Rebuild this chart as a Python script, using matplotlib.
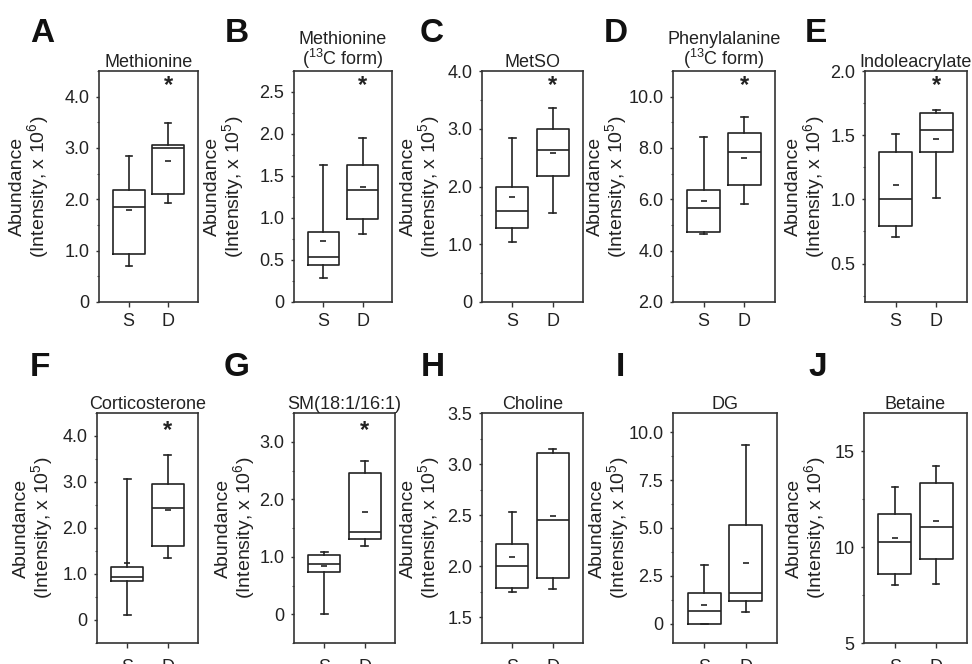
import matplotlib
matplotlib.use("Agg")
import matplotlib.pyplot as plt
from matplotlib.ticker import MultipleLocator, FixedLocator

plt.rcParams['font.family'] = ['Liberation Sans', 'DejaVu Sans']
plt.rcParams['mathtext.fontset'] = 'custom'
plt.rcParams['mathtext.rm'] = 'Liberation Sans'
plt.rcParams['mathtext.it'] = 'Liberation Sans:italic'
plt.rcParams['mathtext.bf'] = 'Liberation Sans:bold'

# ---------------- data ----------------
letters = ["A", "B", "C", "D", "E", "F", "G", "H", "I", "J"]
titles = ["Methionine",
          "Methionine\n($\\mathregular{^{13}}$C form)",
          "MetSO",
          "Phenylalanine\n($\\mathregular{^{13}}$C form)",
          "Indoleacrylate",
          "Corticosterone",
          "SM(18:1/16:1)",
          "Choline",
          "DG",
          "Betaine"]
exponents = [6, 5, 5, 5, 6, 5, 6, 5, 5, 6]
significant = [True, True, True, True, True, True, True, False, False, False]
groups = ["S", "D"]

s_lo   = [0.71, 0.28, 1.04, 4.66, 0.71, 0.10, 0.00, 1.75, 0.00, 8.03]
s_q1   = [0.94, 0.44, 1.28, 4.72, 0.79, 0.85, 0.74, 1.79, 0.00, 8.59]
s_med  = [1.86, 0.54, 1.58, 5.66, 1.00, 0.94, 0.88, 2.00, 0.69, 10.27]
s_q3   = [2.18, 0.83, 2.00, 6.35, 1.37, 1.16, 1.03, 2.22, 1.59, 11.71]
s_hi   = [2.85, 1.63, 2.84, 8.41, 1.51, 3.07, 1.09, 2.53, 3.06, 13.15]
s_mean = [1.80, 0.73, 1.81, 5.92, 1.11, 1.23, 0.84, 2.09, 1.00, 10.46]

d_lo   = [1.93, 0.81, 1.54, 5.81, 1.01, 1.34, 1.18, 1.78, 0.60, 8.08]
d_q1   = [2.11, 0.99, 2.19, 6.54, 1.37, 1.61, 1.31, 1.89, 1.21, 9.40]
d_med  = [3.00, 1.33, 2.63, 7.86, 1.54, 2.44, 1.43, 2.45, 1.59, 11.03]
d_q3   = [3.06, 1.63, 2.99, 8.60, 1.67, 2.95, 2.46, 3.11, 5.16, 13.35]
d_hi   = [3.48, 1.95, 3.36, 9.19, 1.70, 3.59, 2.67, 3.15, 9.31, 14.24]
d_mean = [2.74, 1.37, 2.58, 7.60, 1.47, 2.40, 1.77, 2.49, 3.15, 11.38]

ylims = [(0, 4.5), (0, 2.75), (0, 4.0), (2, 11), (0.2, 2.0),
         (-0.5, 4.5), (-0.5, 3.5), (1.25, 3.5), (-1, 11), (5, 17)]
yticks = [[0, 1, 2, 3, 4],
          [0, 0.5, 1.0, 1.5, 2.0, 2.5],
          [0, 1, 2, 3, 4],
          [2, 4, 6, 8, 10],
          [0.5, 1.0, 1.5, 2.0],
          [0, 1, 2, 3, 4],
          [0, 1, 2, 3],
          [1.5, 2.0, 2.5, 3.0, 3.5],
          [0, 2.5, 5.0, 7.5, 10.0],
          [5, 10, 15]]
ytick_labels = [["0", "1.0", "2.0", "3.0", "4.0"],
                ["0", "0.5", "1.0", "1.5", "2.0", "2.5"],
                ["0", "1.0", "2.0", "3.0", "4.0"],
                ["2.0", "4.0", "6.0", "8.0", "10.0"],
                ["0.5", "1.0", "1.5", "2.0"],
                ["0", "1.0", "2.0", "3.0", "4.0"],
                ["0", "1.0", "2.0", "3.0"],
                ["1.5", "2.0", "2.5", "3.0", "3.5"],
                ["0", "2.5", "5.0", "7.5", "10.0"],
                ["5", "10", "15"]]
minor_steps = [0.5, 0.25, 0.5, 1.0, 0.25, 0.5, 0.5, 0.25, 1.25, 2.5]

# ---------------- layout (pixels) ----------------
W, H = 972, 664
ax_left = [99, 294, 482, 673, 865, 97, 294, 482, 673, 864]
ax_width = [99, 98, 101, 102, 102, 101, 101, 101, 104, 103]
row_top = [71, 413]
row_bottom = [302, 643]
label_off = [48, 48, 40, 44, 38, 42, 37, 40, 42, 36]
letter_x = [30, 225, 420, 604, 805, 30, 224, 421, 616, 808]
letter_base = [42, 376]
xpad = [4.5, 8.0]

ink = "#222222"
fig = plt.figure(figsize=(W / 100, H / 100), dpi=100)

for i in range(10):
    row = 0 if i < 5 else 1
    l = ax_left[i] / W
    b = 1 - row_bottom[row] / H
    w = ax_width[i] / W
    h = (row_bottom[row] - row_top[row]) / H
    ax = fig.add_axes([l, b, w, h])

    stats = [
        dict(whislo=s_lo[i], q1=s_q1[i], med=s_med[i], q3=s_q3[i], whishi=s_hi[i],
             mean=s_mean[i], fliers=[]),
        dict(whislo=d_lo[i], q1=d_q1[i], med=d_med[i], q3=d_q3[i], whishi=d_hi[i],
             mean=d_mean[i], fliers=[]),
    ]
    lp = dict(color=ink, linewidth=1.2)
    ax.bxp(stats, positions=[1, 2], widths=0.8, capwidths=0.16,
           showmeans=True, meanline=False, showfliers=False,
           boxprops=lp, medianprops=lp, whiskerprops=lp, capprops=lp,
           meanprops=dict(marker="_", markersize=4, markeredgecolor=ink,
                          markeredgewidth=1.2),
           manage_ticks=False)

    ax.set_xlim(0.25, 2.75)
    ax.set_ylim(*ylims[i])
    ax.set_xticks([1, 2])
    ax.set_xticklabels(groups)
    ax.yaxis.set_major_locator(FixedLocator(yticks[i]))
    ax.set_yticklabels(ytick_labels[i])
    ax.yaxis.set_minor_locator(MultipleLocator(minor_steps[i]))

    for sp in ax.spines.values():
        sp.set_color("#333333")
        sp.set_linewidth(1.2)
    ax.tick_params(axis="y", which="major", length=2.5, width=1, pad=4.5,
                   labelsize=13, colors="#333333", labelcolor=ink)
    ax.tick_params(axis="y", which="minor", length=1.8, width=0.8, colors="#555555")
    ax.tick_params(axis="x", which="major", length=3.5, width=1, pad=xpad[row],
                   labelsize=13, colors="#333333", labelcolor=ink)

    ax.set_title(titles[i], fontsize=13, color=ink, pad=3, linespacing=0.95)
    ax.set_ylabel("Abundance\n(Intensity, x 10$\\mathregular{^{%d}}$)" % exponents[i],
                  fontsize=14, color=ink, linespacing=0.95)
    ax.yaxis.set_label_coords(-label_off[i] / ax_width[i], 0.5)

    if significant[i]:
        ax.text(2, 0.935 if row == 0 else 0.925, "*", transform=ax.get_xaxis_transform(),
                ha="center", va="center", fontsize=17, fontweight="bold", color=ink)

    fig.text(letter_x[i] / W, 1 - letter_base[row] / H, letters[i],
             fontsize=24, fontweight="bold", color="#111111",
             ha="left", va="baseline")

fig.savefig("out.png", dpi=100)
